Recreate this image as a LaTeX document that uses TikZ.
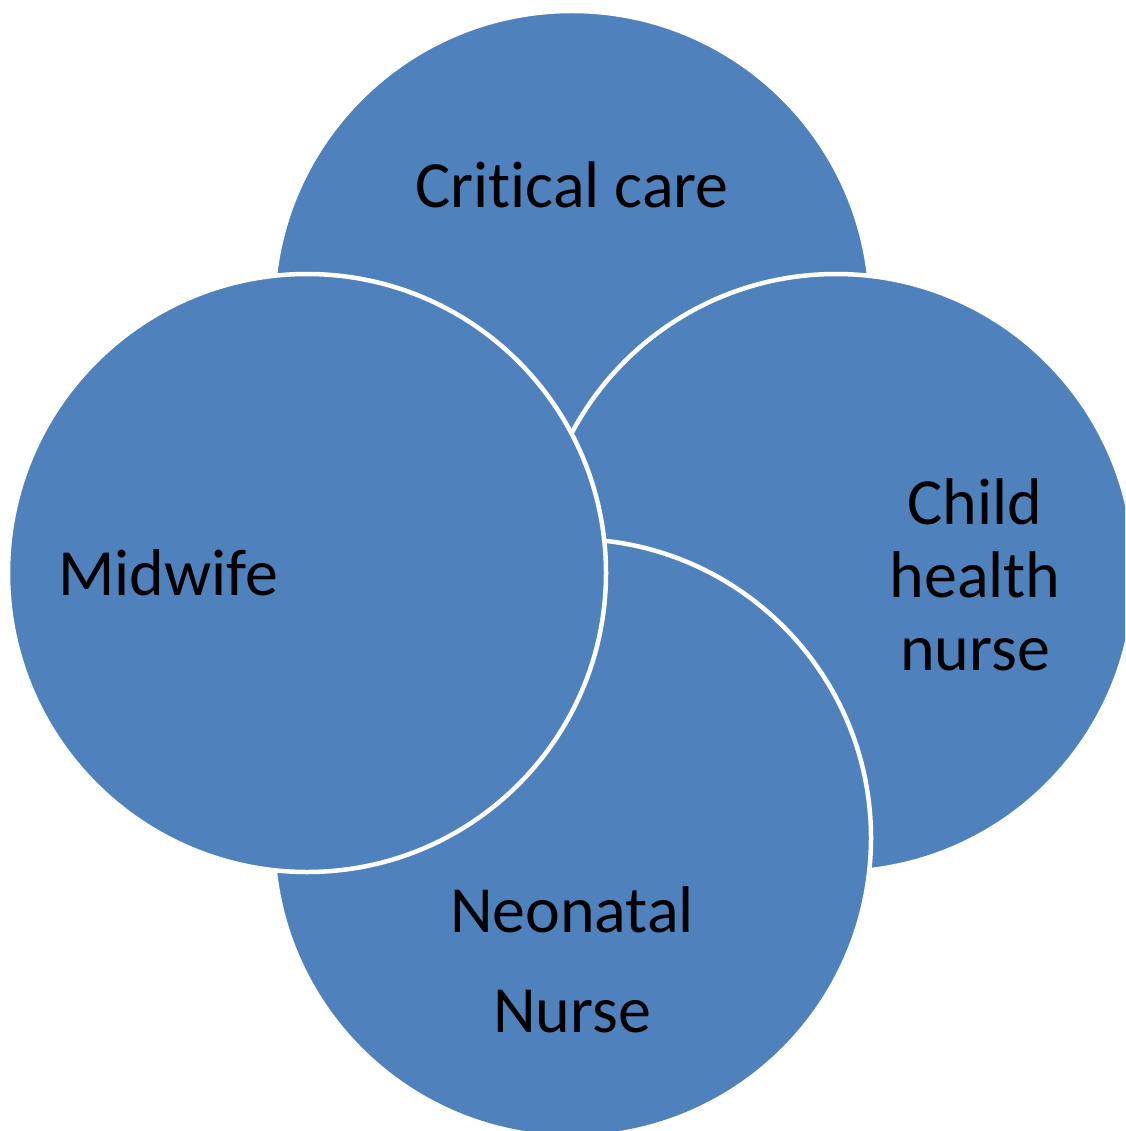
\documentclass[tikz,border=0pt]{standalone}
\usepackage{fontspec}
\setmainfont{Carlito}[Ligatures=NoCommon]
\definecolor{venn}{HTML}{4F81BD}
\begin{document}
\begin{tikzpicture}[x=1pt,y=-1pt,
  bubble/.style={circle, fill=venn, draw=white, line width=4.5pt, minimum size=598pt, inner sep=0pt},
  lbl/.style={font=\fontsize{66}{73}\selectfont, align=center, text=black}]
\useasboundingbox (0,0) rectangle (1125,1131);
\begin{scope}
\clip (0,0) rectangle (1125,1131);
\node[bubble] (cc) at (572,310) {};
\node[bubble] (ch) at (836,573) {};
\node[bubble] (nn) at (572,838) {};
\node[bubble] (mw) at (307,573) {};
\end{scope}
\node[lbl] (tcc) at (572,185) {Critical care};
\node[lbl] (tmw) at (168,573) {Midwife};
\node[lbl] (tch) at (975,575) {Child\\health\\nurse};
\node[lbl] (tnn1) at (572,910) {Neonatal};
\node[lbl] (tnn2) at (572,1012) {Nurse};
\end{tikzpicture}
\end{document}
